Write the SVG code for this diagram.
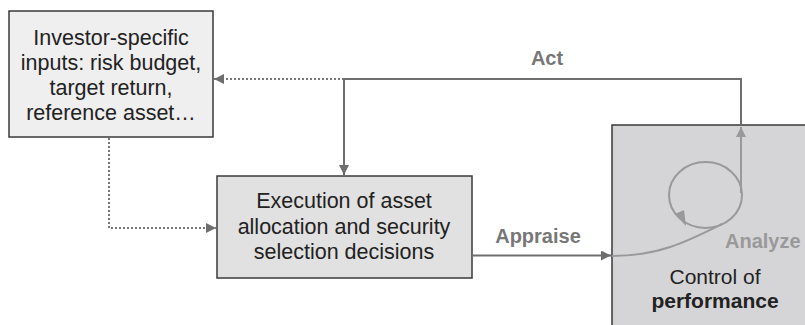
<svg xmlns="http://www.w3.org/2000/svg" width="805" height="325" viewBox="0 0 805 325">
<style>
.box{stroke:#3a3a3a;stroke-width:1.5}
.t{font-family:"Liberation Sans",Arial,sans-serif;font-size:21.5px;fill:#222;text-anchor:middle}
.lbl{font-family:"Liberation Sans",Arial,sans-serif;font-size:20px;font-weight:bold;fill:#777;text-anchor:middle}
.c{fill:none;stroke:#6e6e6e;stroke-width:2}
.d{fill:none;stroke:#777;stroke-width:2;stroke-dasharray:2 2}
.l{fill:none;stroke:#999;stroke-width:2}
</style>
<defs>
<marker id="ah" viewBox="0 0 10 10" refX="10" refY="5" markerWidth="5.5" markerHeight="5" orient="auto" markerUnits="strokeWidth"><path d="M0,0 L10,5 L0,10 z" fill="#6e6e6e"/></marker>
<marker id="ahl" viewBox="0 0 10 10" refX="10" refY="5" markerWidth="5.5" markerHeight="5" orient="auto" markerUnits="strokeWidth"><path d="M0,0 L10,5 L0,10 z" fill="#999"/></marker>
</defs>
<g id="node-control">
<rect class="box" x="612" y="125" width="200" height="210" fill="#d5d5d7"/>
<text class="t" x="715" y="284" style="font-size:21px">Control of</text>
<text class="t" x="715" y="308" font-weight="bold" style="font-size:21px">performance</text>
</g>
<g id="node-investor">
<rect class="box" x="9" y="11" width="204" height="126" fill="#efefef"/>
<text class="t" x="111" y="45">Investor-specific</text>
<text class="t" x="111" y="70">inputs: risk budget,</text>
<text class="t" x="111" y="95">target return,</text>
<text class="t" x="111" y="120">reference asset…</text>
</g>
<g id="node-execution">
<rect class="box" x="217" y="176" width="255" height="102" fill="#e1e1e1"/>
<text class="t" x="344" y="208">Execution of asset</text>
<text class="t" x="344" y="234">allocation and security</text>
<text class="t" x="344" y="259">selection decisions</text>
</g>
<g id="connectors">
<path class="d" d="M109,138 V228 H216" marker-end="url(#ah)"/>
<path class="d" d="M344,79 H214" marker-end="url(#ah)"/>
<path class="c" d="M741,125 V79 H344 V175" marker-end="url(#ah)"/>
<path class="c" d="M472,255.5 H611" marker-end="url(#ah)"/>
<path class="l" d="M612,256 C660,256 690,240 722,224"/>
<ellipse class="l" cx="705.5" cy="195" rx="36.5" ry="33"/>
<polygon points="686,226 675,214 684,210" fill="#999"/>
<path class="l" d="M741,193 V127" marker-end="url(#ahl)"/>
<text class="lbl" x="547" y="65">Act</text>
<text class="lbl" x="538" y="243">Appraise</text>
<text class="lbl" x="725" y="248" style="fill:#999;text-anchor:start">Analyze</text>
</g>
</svg>
